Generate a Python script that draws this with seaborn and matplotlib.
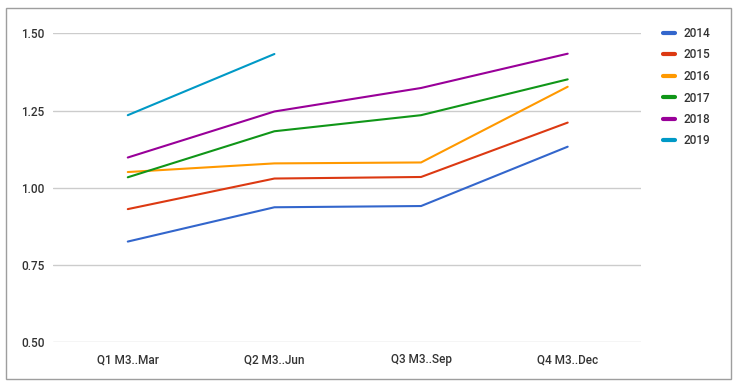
import pandas as pd
import numpy as np
import matplotlib
matplotlib.use("Agg")
import matplotlib.pyplot as plt
import matplotlib.patches as mpatches
import seaborn as sns

# --- data ---
quarters = ['Q1 M3..Mar', 'Q2 M3..Jun', 'Q3 M3..Sep', 'Q4 M3..Dec']
years = ['2014', '2015', '2016', '2017', '2018', '2019']
v2014 = [0.826, 0.937, 0.941, 1.133]
v2015 = [0.931, 1.030, 1.035, 1.211]
v2016 = [1.051, 1.079, 1.082, 1.327]
v2017 = [1.034, 1.183, 1.235, 1.351]
v2018 = [1.098, 1.247, 1.323, 1.434]
v2019 = [1.235, 1.433, np.nan, np.nan]
colors = ['#3366cc', '#dc3912', '#ff9900', '#109618', '#990099', '#0099c6']
yticks = [0.50, 0.75, 1.00, 1.25, 1.50]

series = [v2014, v2015, v2016, v2017, v2018, v2019]
rows = []
for yr, vals in zip(years, series):
    for q, v in zip(quarters, vals):
        rows.append({'quarter': q, 'year': yr, 'value': v})
df = pd.DataFrame(rows).dropna()

sns.set_theme(style="white")
plt.rcParams['font.family'] = ['Roboto', 'DejaVu Sans']
plt.rcParams['font.weight'] = 'medium'

fig = plt.figure(figsize=(7.41, 3.88), dpi=100)
ax = fig.add_axes([53 / 741, 1 - 342.3 / 388, (641 - 53) / 741, 309 / 388])

sns.lineplot(data=df, x='quarter', y='value', hue='year', palette=colors,
             linewidth=1.5, sort=False, ax=ax)

ax.set_xlim(-0.51, 3.5)
ax.set_ylim(0.5, 1.5)
ax.set_yticks(yticks)
ax.set_yticklabels([f'{t:.2f}' for t in yticks])
ax.grid(axis='y', color='#cccccc', linewidth=1)
ax.set_axisbelow(True)
for s in ax.spines.values():
    s.set_visible(False)
ax.tick_params(axis='both', length=0, labelsize=8.5, colors='#333333', pad=8)
ax.tick_params(axis='y', pad=6)
ax.set_xlabel('')
ax.set_ylabel('')

leg = ax.legend(loc='upper left', bbox_to_anchor=(663 / 741, 1 - 27 / 388),
                bbox_transform=fig.transFigure, frameon=False, fontsize=8.5,
                handlelength=1.0, handletextpad=0.7, labelspacing=0.72,
                borderaxespad=0, borderpad=0)
for line in leg.get_lines():
    line.set_linewidth(3)
for t in leg.get_texts():
    t.set_color('#333333')

frame = mpatches.Rectangle((5.5 / 741, 1 - 379 / 388), (731 - 5.5) / 741, (379 - 8) / 388,
                           transform=fig.transFigure, fill=False,
                           edgecolor='#9e9e9e', linewidth=1)
fig.patches.append(frame)

fig.savefig('out.png', dpi=100)
